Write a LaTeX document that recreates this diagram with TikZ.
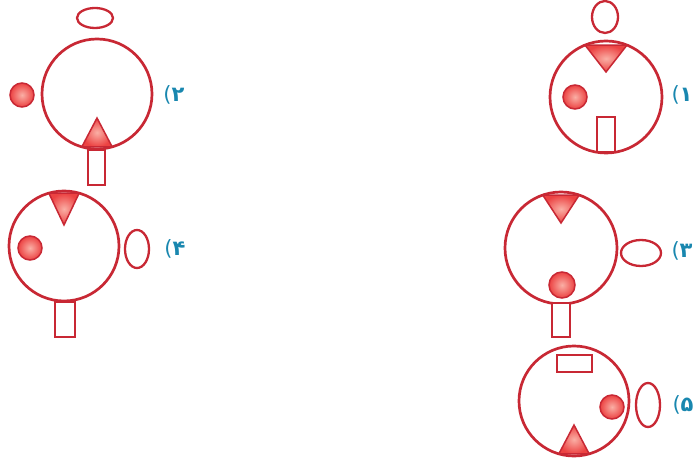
\documentclass[tikz,border=0pt]{standalone}
\usepackage{fontspec}
\usetikzlibrary{calc}
\newfontfamily\numfont{DejaVu Sans}
\definecolor{lineRed}{RGB}{200,40,52}
\definecolor{dotRed}{RGB}{236,66,66}
\definecolor{dotPink}{RGB}{250,175,165}
\definecolor{labelBlue}{RGB}{25,135,175}
\newcommand{\dialnum}[1]{(\textbf{#1}}

\begin{document}
\begin{tikzpicture}[x=1pt, y=1pt,
  ring/.style={draw=lineRed, line width=2.7pt},
  part/.style={draw=lineRed, line width=2.3pt, fill=white},
  blob/.style={draw=lineRed, line width=1.5pt, inner color=dotPink, outer color=dotRed},
  num/.style={text=labelBlue, font=\numfont\fontsize{21}{21}\selectfont, inner sep=0pt}
]
\useasboundingbox (0,0) rectangle (698,461);

% centres of the five dials
\coordinate (c1) at (606,364);
\coordinate (c2) at (97,367);
\coordinate (c3) at (561,213);
\coordinate (c4) at (64,215);
\coordinate (c5) at (574,60);

% dial 1
\draw[part] (597,344) rectangle (615,309);
\draw[ring] (c1) circle (56);
\draw[part] (605,444) ellipse (13 and 16);
\draw[blob] ($(c1)+(68:56)$) -- ($(c1)+(112:56)$) -- ($(c1)+(0,25)$) -- cycle;
\draw[blob] (575,364) circle (12);
\node[num] (n1) at (682,366) {\dialnum{۱}};

% dial 2
\draw[ring] (c2) circle (55);
\draw[part] (95,443) ellipse (18 and 10);
\draw[blob] (22,366) circle (12);
\draw[part] (88,311) rectangle (105,276);
\draw[blob] ($(c2)+(254:55)$) -- ($(c2)+(286:55)$) -- ($(c2)+(0,-24)$) -- cycle;
\node[num] (n2) at (174,366) {\dialnum{۲}};

% dial 3
\draw[ring] (c3) circle (56);
\draw[blob] ($(c3)+(71:56)$) -- ($(c3)+(109:56)$) -- ($(c3)+(0,25)$) -- cycle;
\draw[part] (641,208) ellipse (20 and 13);
\draw[blob] (562,176) circle (13);
\draw[part] (552,158) rectangle (570,124);
\node[num] (n3) at (682,210) {\dialnum{۳}};

% dial 4
\draw[ring] (c4) circle (55);
\draw[blob] ($(c4)+(74:55)$) -- ($(c4)+(106:55)$) -- ($(c4)+(0,21)$) -- cycle;
\draw[blob] (30,213) circle (12);
\draw[part] (137,212) ellipse (12 and 19);
\draw[part] (55,159) rectangle (75,124);
\node[num] (n4) at (175,212) {\dialnum{۴}};

% dial 5
\draw[ring] (c5) circle (55);
\draw[part] (557,106) rectangle (592,89);
\draw[blob] (612,54) circle (12);
\draw[part] (648,56) ellipse (12 and 22);
\draw[blob] ($(c5)+(254:55)$) -- ($(c5)+(286:55)$) -- ($(c5)+(0,-24)$) -- cycle;
\node[num] (n5) at (683,56) {\dialnum{۵}};
\end{tikzpicture}
\end{document}
